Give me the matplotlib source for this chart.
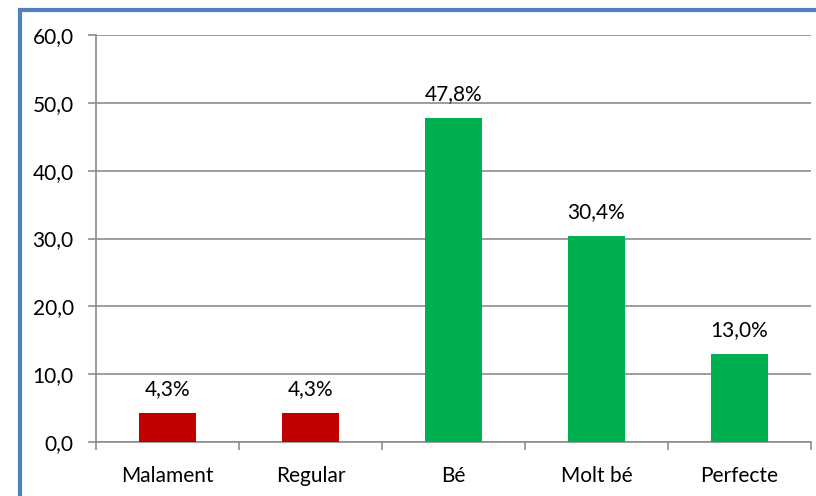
import matplotlib
matplotlib.use("Agg")
import matplotlib.pyplot as plt
from matplotlib.patches import Rectangle
import numpy as np

categories = ["Malament", "Regular", "Bé", "Molt bé", "Perfecte"]
values = [4.3, 4.3, 47.8, 30.4, 13.0]
bar_colors = ["#C00000", "#C00000", "#00B050", "#00B050", "#00B050"]
yticks = [0, 10, 20, 30, 40, 50, 60]

plt.rcParams['font.family'] = ['Lato', 'DejaVu Sans']
FS = 15

fig = plt.figure(figsize=(8.16, 4.96), dpi=100)
ax = fig.add_axes([96/816, 1-442/496, (811-96)/816, (442-35)/496])

x = np.arange(len(categories))
ax.bar(x, values, width=0.4, color=bar_colors, zorder=3)
for xi, v in zip(x, values):
    ax.annotate(f"{v:.1f}%".replace(".", ","), (xi, v), xytext=(0, 10),
                textcoords="offset points", ha="center", va="bottom", fontsize=FS)

ax.set_xlim(-0.5, len(categories) - 0.5)
ax.set_ylim(0, 60)
ax.set_yticks(yticks)
ax.set_yticklabels([f"{t:.1f}".replace(".", ",") for t in yticks], fontsize=FS)
ax.yaxis.grid(True, color="#8C8C8C", linewidth=1.2, zorder=0)
ax.set_axisbelow(True)

ax.set_xticks(x)
ax.set_xticklabels(categories, fontsize=FS)
ax.tick_params(axis="x", length=0, pad=17)
ax.set_xticks(np.arange(-0.5, len(categories)), minor=True)
ax.tick_params(axis="x", which="minor", length=6, color="#8C8C8C", width=1.2)
ax.tick_params(axis="y", length=6, color="#8C8C8C", width=1.2, pad=10)

for s in ["top", "right"]:
    ax.spines[s].set_visible(False)
for s in ["left", "bottom"]:
    ax.spines[s].set_color("#8C8C8C")
    ax.spines[s].set_linewidth(1.2)

fig.patches.append(Rectangle((20/816, -0.1), 1.2, 1 - 9.5/496 + 0.1,
                             transform=fig.transFigure, fill=False,
                             edgecolor="#4F81BD", linewidth=3, zorder=10))

fig.savefig("out.png", dpi=100)
